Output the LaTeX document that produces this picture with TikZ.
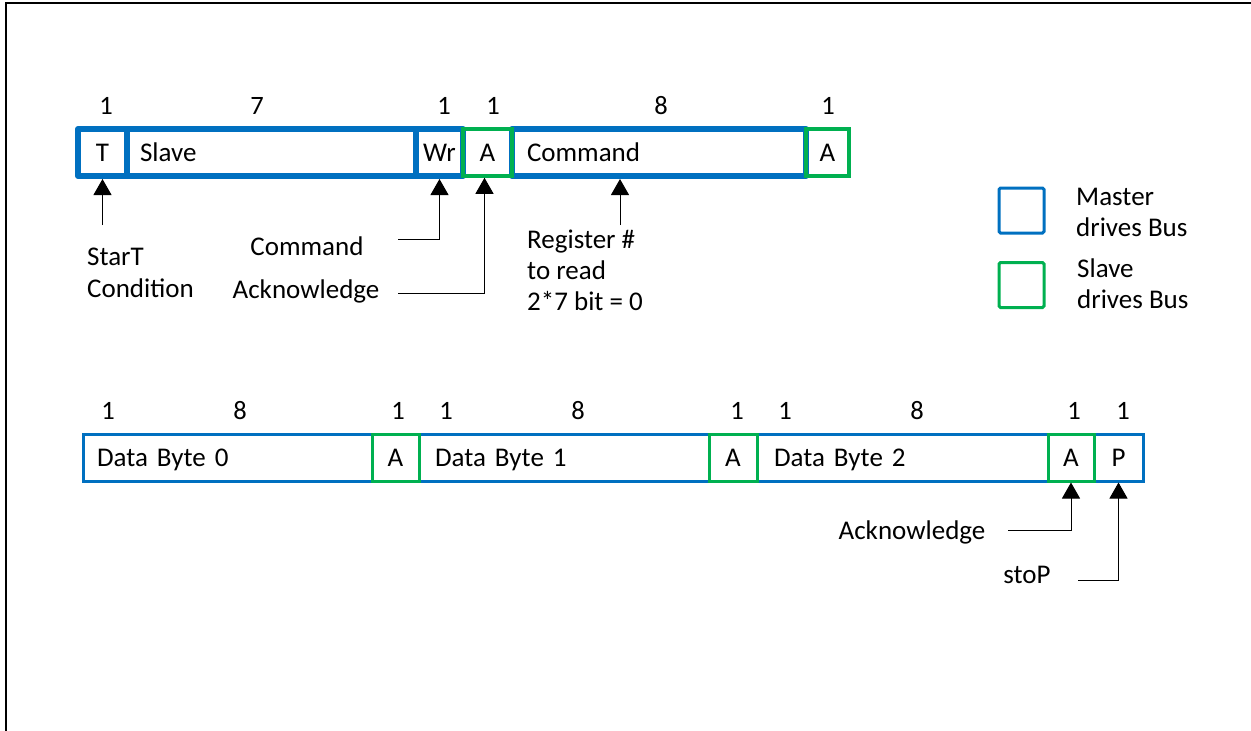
\documentclass[tikz,border=0pt]{standalone}
\usepackage{fontspec}
\setmainfont{Carlito}
\usetikzlibrary{arrows.meta}
\definecolor{mblue}{HTML}{0070C0}
\definecolor{sgreen}{HTML}{00B050}
\begin{document}
\begin{tikzpicture}[x=1pt,y=-1pt,
  txt/.style={font=\fontsize{27}{31}\selectfont, inner sep=0pt},
  num/.style={font=\fontsize{26.5}{30}\selectfont, inner sep=0pt},
  fld/.style={inner sep=0pt, font=\fontsize{27}{31}\selectfont, text height=19pt, text depth=2pt, minimum height=47pt},
  mthick/.style={fld, draw=mblue, line width=6pt, line join=round},
  mthin/.style={fld, draw=mblue, line width=3pt},
  sbox/.style={fld, draw=sgreen, line width=3.5pt},
  legbox/.style={line width=3pt, minimum size=45pt, rounded corners=1.5pt, inner sep=0pt},
  arr/.style={line width=1pt, draw=black, -{Triangle[width=18pt,length=16pt]}},
  conn/.style={line width=1pt, draw=black}
]
\useasboundingbox (0,0) rectangle (1251,731);
% frame
\draw[line width=2pt] (6,745) -- (6,3) -- (1265,3);

% ---- top row ----
\node[mthick, minimum width=49pt] (T) at (102.5,152.5) {T};
\node[mthick, minimum width=289pt, text width=263pt, align=left] (slave) at (271.5,152.5) {Slave};
\node[mthick, minimum width=47pt] (wr) at (439.5,152.5) {Wr};
\node[mthick, minimum width=294pt, text width=264pt, align=left] (cmd) at (659,152.5) {Command};
\node[sbox, minimum width=49pt] (a1) at (487.5,152.5) {A};
\node[sbox, minimum width=43pt] (a2) at (827.5,152.5) {A};

\node[num] (n1) at (106,106) {1};
\node[num] (n2) at (257,106) {7};
\node[num] (n3) at (444,106) {1};
\node[num] (n4) at (493,106) {1};
\node[num] (n5) at (661,106) {8};
\node[num] (n6) at (828,106) {1};

% labels top
\node[txt, align=left, anchor=west, font=\fontsize{27}{32.5}\selectfont] (startl) at (87,273) {StarT\\Condition};
\node[txt, anchor=base] (cmdlab) at (307,255) {Command};
\node[txt, anchor=base] (acklab) at (306,298) {Acknowledge};
\node[txt, align=left, anchor=west] (reglab) at (527,270) {Register \#\\to read\\2*7 bit = 0};

\coordinate (tstart) at (103,225);
\draw[arr] (T.south |- tstart) -- (T.south);
\coordinate (cmdl) at (398,239);
\draw[arr] (cmdl) -| (wr.south);
\coordinate (ackl) at (398,293);
\draw[arr] (ackl) -| ([xshift=-3pt]a1.south);
\coordinate (regstart) at (620,225);
\draw[arr] (regstart) -- (regstart |- cmd.south);

% ---- legend ----
\node[legbox, draw=mblue] (lm) at (1021.5,210.5) {};
\node[legbox, draw=sgreen] (ls) at (1021.5,285) {};
\node[txt, align=left, anchor=west] (lmt) at (1076,212) {Master\\drives Bus};
\node[txt, align=left, anchor=west] (lst) at (1077,284) {Slave\\drives Bus};

% ---- bottom row ----
\node[mthin, minimum width=289pt, text width=261pt, align=left] (db0) at (227.5,457.5) {Data Byte 0};
\node[mthin, minimum width=290pt, text width=258pt, align=left] (db1) at (564,457.5) {Data Byte 1};
\node[mthin, minimum width=291pt, text width=257pt, align=left] (db2) at (902.5,457.5) {Data Byte 2};
\node[mthin, minimum width=49pt] (p) at (1118.5,457.5) {P};
\node[sbox, line width=3pt, minimum width=47pt] (a3) at (395.5,457.5) {A};
\node[sbox, line width=3pt, minimum width=48pt] (a4) at (733,457.5) {A};
\node[sbox, line width=3pt, minimum width=46pt] (a5) at (1071,457.5) {A};

\node[num] (b1) at (108,411) {1};
\node[num] (b2) at (240,411) {8};
\node[num] (b3) at (398,411) {1};
\node[num] (b4) at (446,411) {1};
\node[num] (b5) at (578,411) {8};
\node[num] (b6) at (737,411) {1};
\node[num] (b7) at (785,411) {1};
\node[num] (b8) at (917,411) {8};
\node[num] (b9) at (1074,411) {1};
\node[num] (b10) at (1123,411) {1};

\node[txt, anchor=base] (ack2lab) at (912,539) {Acknowledge};
\node[txt, anchor=base] (stoplab) at (1027,583) {stoP};

\coordinate (ack2) at (1008,530);
\draw[arr] (ack2) -| (a5.south);
\coordinate (stopl) at (1078,580);
\draw[arr] (stopl) -| (p.south);
\end{tikzpicture}
\end{document}
